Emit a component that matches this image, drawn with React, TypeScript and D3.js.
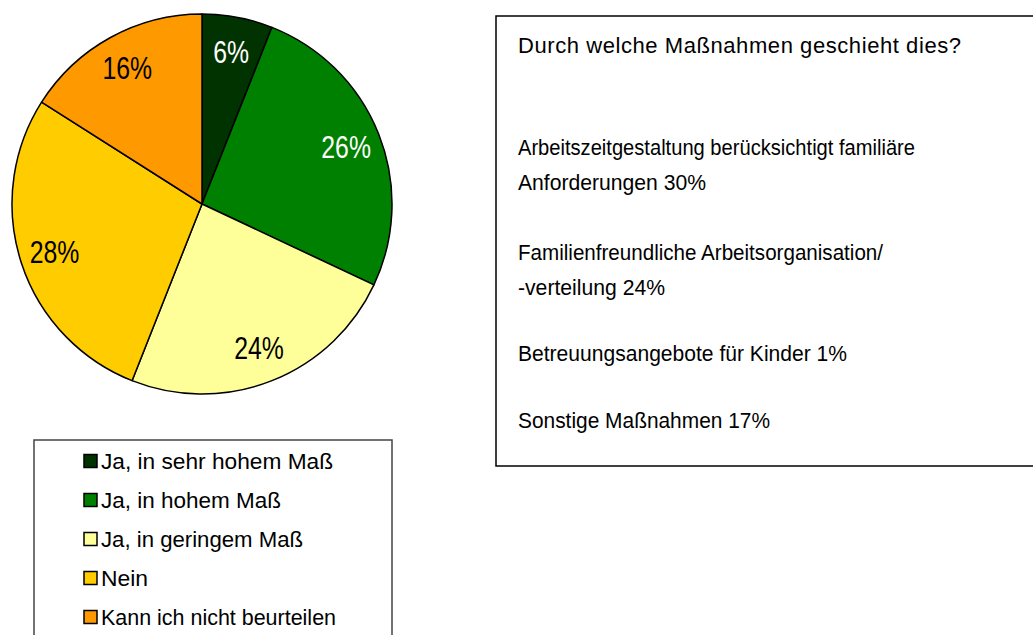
import React from 'react';
import * as d3 from 'd3';

// pie data
const categories = [
  'Ja, in sehr hohem Maß',
  'Ja, in hohem Maß',
  'Ja, in geringem Maß',
  'Nein',
  'Kann ich nicht beurteilen',
];
const shares = [6, 26, 24, 28, 16];

// text box on the right
const boxTitle = 'Durch welche Maßnahmen geschieht dies?';
const measureLines = [
  'Arbeitszeitgestaltung berücksichtigt familiäre',
  'Anforderungen 30%',
  'Familienfreundliche Arbeitsorganisation/',
  '-verteilung 24%',
  'Betreuungsangebote für Kinder 1%',
  'Sonstige Maßnahmen 17%',
];

const colors = ['#003300', '#008000', '#FFFF99', '#FFCC00', '#FF9900'];
const labelColors = ['#fff', '#fff', '#000', '#000', '#000'];

const W = 1033;
const H = 635;
const cx = 202;
const cy = 204;
const radius = 190;

const font = "'Liberation Sans', Arial, sans-serif";

// layout of the right text box (baselines and widths)
const lineBaselines = [155, 190, 260, 295, 361, 428];
const lineWidths = [397, 188, 365, 147, 329, 252];

// legend widths
const legendWidths = [232, 180, 202, 47, 235];

export default function App() {
  const pie = d3
    .pie<number>()
    .sort(null)
    .value((d) => d)
    .startAngle(0)
    .endAngle(2 * Math.PI);
  const arcs = pie(shares);

  const arc = d3.arc<d3.PieArcDatum<number>>().innerRadius(0).outerRadius(radius);
  const labelArc = d3
    .arc<d3.PieArcDatum<number>>()
    .innerRadius(155)
    .outerRadius(155);

  const legendY = d3
    .scalePoint<string>()
    .domain(categories)
    .range([461, 617]);

  return (
    <svg
      width={W}
      height={H}
      style={{ position: 'absolute', left: 0, top: 0, background: '#fff' }}
      fontFamily={font}
    >
      <g transform={`translate(${cx},${cy})`}>
        {arcs.map((a, i) => (
          <path
            key={i}
            d={arc(a) || ''}
            fill={colors[i]}
            stroke="#000"
            strokeWidth={1.5}
            strokeLinejoin="round"
          />
        ))}
        {arcs.map((a, i) => {
          const [x, y] = labelArc.centroid(a);
          return (
            <text
              key={i}
              transform={`translate(${x},${y}) scale(0.8,1)`}
              dy="0.36em"
              textAnchor="middle"
              fontSize={31}
              fill={labelColors[i]}
            >
              {shares[i]}%
            </text>
          );
        })}
      </g>

      {/* legend */}
      <rect x={34} y={440} width={358} height={220} fill="#fff" stroke="#444" strokeWidth={1.5} />
      {categories.map((c, i) => {
        const y = legendY(c) as number;
        return (
          <g key={c}>
            <rect x={84} y={y - 6.5} width={13} height={13} fill={colors[i]} stroke="#000" strokeWidth={1.5} />
            <text
              x={101}
              y={y}
              dy="0.36em"
              fontSize={22}
              fill="#000"
              textLength={legendWidths[i]}
              lengthAdjust="spacingAndGlyphs"
            >
              {c}
            </text>
          </g>
        );
      })}

      {/* right text box */}
      <rect x={496} y={16} width={560} height={450} fill="#fff" stroke="#000" strokeWidth={1.5} />
      <text
        x={518}
        y={53}
        fontSize={22}
        fill="#000"
        textLength={443}
        lengthAdjust="spacing"
      >
        {boxTitle}
      </text>
      {measureLines.map((t, i) => (
        <text
          key={i}
          x={518}
          y={lineBaselines[i]}
          fontSize={22}
          fill="#000"
          textLength={lineWidths[i]}
          lengthAdjust="spacingAndGlyphs"
        >
          {t}
        </text>
      ))}
    </svg>
  );
}
